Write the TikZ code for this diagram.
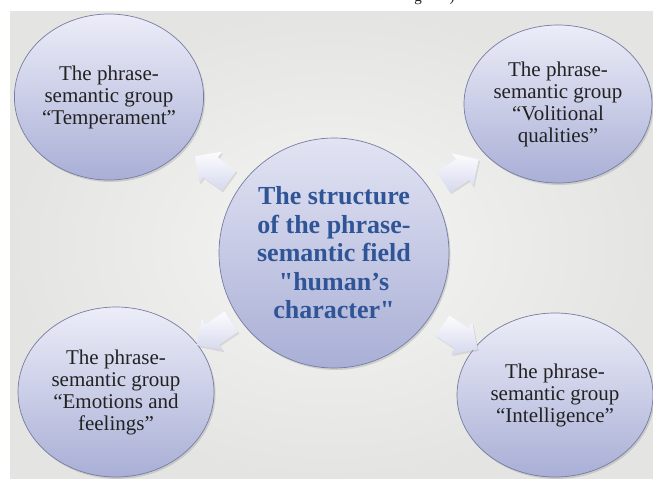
\documentclass[tikz,border=0pt]{standalone}
\usepackage{fontspec}
\setmainfont{Liberation Serif}[Ligatures=TeXOff]
\usetikzlibrary{shapes.geometric,shapes.arrows,shadows}

\definecolor{pagebg}{HTML}{FFFFFF}
\definecolor{bginner}{HTML}{F5F5F5}
\definecolor{bgouter}{HTML}{E4E4E2}
\definecolor{elltop}{HTML}{ECEDF8}
\definecolor{ellbot}{HTML}{A9AFD6}
\definecolor{ringcol}{HTML}{767CA2}
\definecolor{grouptext}{HTML}{222222}
\definecolor{fieldtext}{HTML}{2F5597}
\definecolor{arrowtop}{HTML}{FCFCFE}
\definecolor{arrowbot}{HTML}{D6D9EE}

\tikzset{
  bubble/.style={ellipse, draw=ringcol, line width=0.7pt,
    top color=elltop, bottom color=ellbot, inner sep=0pt,
    align=center, text=grouptext,
    drop shadow={shadow xshift=1.5pt, shadow yshift=-2pt, opacity=0.22, fill=black!60}},
  group/.style={bubble, font=\fontsize{21}{22}\selectfont},
  field/.style={bubble, circle, top color=elltop!85!ellbot, bottom color=ellbot,
    text=fieldtext, font=\fontsize{26}{28.5}\selectfont\bfseries},
  pointer/.style={single arrow, minimum height=42pt,
    single arrow head extend=7pt, single arrow tip angle=90, inner sep=0pt,
    top color=arrowtop, bottom color=arrowbot, draw=none,
    drop shadow={shadow xshift=1.2pt, shadow yshift=-1.8pt, opacity=0.2, fill=black!50}},
  cutline/.style={font=\fontsize{15}{15}\selectfont, text=grouptext, anchor=base, inner sep=0pt}
}
% shaft thickness of the block arrows
\newcommand{\shaftbody}{\rule{0pt}{24pt}}

\begin{document}
\begin{tikzpicture}[x=1pt,y=-1pt]
  % page and slide background
  \useasboundingbox (0,0) rectangle (653,479);
  \fill[pagebg] (0,0) rectangle (653,479);
  \shade[inner color=bginner, outer color=bgouter] (10,11) rectangle (653,479);

  % last line of the text above the slide, mostly cut off
  \begin{scope}
    \clip (0,0) rectangle (653,10);
    \node[cutline] (cutg) at (418,1.5) {g};
    \node[cutline] (cutp) at (452,1.5) {)};
  \end{scope}

  % central field
  \node[field, minimum size=230pt] (field) at (334,253)
    {The structure\\of the phrase-\\semantic field\\"human’s\\character"};

  % the four groups
  \node[group, minimum width=188pt, minimum height=166pt] (temper) at (109,97)
    {The phrase-\\semantic group\\“Temperament”};
  \node[group, minimum width=188pt, minimum height=158pt] (volit) at (558,104)
    {The phrase-\\semantic group\\“Volitional\\qualities”};
  \node[group, minimum width=196pt, minimum height=170pt] (emot) at (116,392)
    {The phrase-\\semantic group\\“Emotions and\\feelings”};
  \node[group, minimum width=196pt, minimum height=164pt] (intel) at (555,395)
    {The phrase-\\semantic group\\“Intelligence”};

  % block arrows from the field towards each group
  \node[pointer, rotate=144] (toTemper) at (217,172) {\shaftbody};
  \node[pointer, rotate=33]  (toVolit)  at (456,174) {\shaftbody};
  \node[pointer, rotate=214] (toEmot)   at (219,330) {\shaftbody};
  \node[pointer, rotate=326] (toIntel)  at (455,334) {\shaftbody};
\end{tikzpicture}
\end{document}
